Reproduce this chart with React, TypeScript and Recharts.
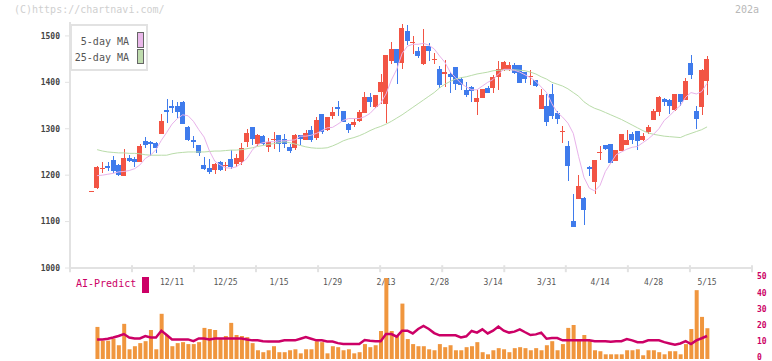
import { Bar, ComposedChart, Line, ReferenceLine, XAxis, YAxis } from 'recharts';

// One entry per trading day, oldest first (day 0 = the stray first tick).
const opens = [
  1164, 1172, 1214, 1219, 1232, 1221, 1198, 1238, 1234, 1228, 1273, 1271, 1269, 1289, 1340, 1349,
  1349, 1357, 1303, 1275, 1264, 1221, 1215, 1211, 1228, 1220, 1234, 1225, 1229, 1272, 1303, 1268,
  1284, 1261, 1277, 1286, 1277, 1261, 1259, 1286, 1276, 1297, 1280, 1331, 1297, 1327, 1346, 1338,
  1311, 1308, 1317, 1334, 1369, 1347, 1379, 1354, 1446, 1471, 1442, 1510, 1484, 1467, 1439, 1478,
  1448, 1428, 1418, 1419, 1433, 1408, 1383, 1390, 1358, 1366, 1387, 1387, 1412, 1426, 1426, 1437,
  1437, 1422, 1411, 1406, 1342, 1348, 1374, 1333, 1294, 1262, 1101, 1148, 1150, 1217, 1185, 1247,
  1266, 1268, 1231, 1252, 1265, 1288, 1295, 1275, 1292, 1318, 1336, 1364, 1361, 1341, 1374, 1361,
  1441, 1338, 1347, 1402,
];
const highs = [
  1166, 1219, 1228, 1229, 1241, 1223, 1256, 1244, 1240, 1267, 1282, 1273, 1272, 1331, 1364, 1361,
  1357, 1359, 1305, 1284, 1264, 1240, 1234, 1226, 1230, 1228, 1254, 1245, 1269, 1300, 1303, 1288,
  1286, 1280, 1292, 1286, 1289, 1268, 1288, 1286, 1297, 1307, 1325, 1331, 1325, 1347, 1359, 1338,
  1313, 1320, 1340, 1379, 1377, 1372, 1419, 1458, 1487, 1471, 1525, 1523, 1499, 1476, 1514, 1485,
  1464, 1435, 1448, 1422, 1433, 1412, 1401, 1392, 1383, 1385, 1392, 1415, 1446, 1445, 1444, 1442,
  1437, 1422, 1426, 1406, 1385, 1374, 1396, 1338, 1305, 1274, 1159, 1200, 1153, 1219, 1232, 1262,
  1266, 1268, 1254, 1288, 1297, 1293, 1295, 1290, 1308, 1343, 1370, 1366, 1364, 1374, 1374, 1409,
  1458, 1348, 1428, 1456,
];
const lows = [
  1164, 1170, 1205, 1208, 1205, 1199, 1198, 1228, 1218, 1228, 1259, 1241, 1247, 1289, 1313, 1335,
  1324, 1310, 1274, 1258, 1241, 1211, 1202, 1203, 1208, 1208, 1213, 1218, 1222, 1260, 1266, 1262,
  1264, 1250, 1256, 1250, 1259, 1247, 1254, 1266, 1276, 1272, 1275, 1288, 1295, 1321, 1327, 1314,
  1291, 1303, 1315, 1334, 1347, 1344, 1354, 1313, 1440, 1397, 1428, 1481, 1461, 1453, 1437, 1445,
  1439, 1387, 1390, 1377, 1384, 1383, 1369, 1358, 1329, 1366, 1376, 1376, 1383, 1424, 1424, 1417,
  1399, 1399, 1394, 1390, 1342, 1305, 1322, 1311, 1269, 1188, 1088, 1148, 1092, 1198, 1159, 1232,
  1254, 1226, 1231, 1252, 1265, 1267, 1254, 1274, 1288, 1318, 1328, 1348, 1331, 1339, 1349, 1361,
  1407, 1299, 1329, 1372,
];
const closes = [
  1166, 1217, 1216, 1215, 1208, 1200, 1238, 1231, 1229, 1262, 1266, 1267, 1259, 1316, 1336, 1345,
  1336, 1310, 1276, 1271, 1248, 1213, 1207, 1223, 1211, 1222, 1217, 1236, 1258, 1291, 1278, 1286,
  1267, 1271, 1279, 1268, 1268, 1252, 1286, 1277, 1291, 1275, 1318, 1293, 1325, 1336, 1343, 1314,
  1297, 1315, 1336, 1369, 1358, 1372, 1401, 1458, 1471, 1442, 1516, 1489, 1486, 1457, 1478, 1467,
  1450, 1394, 1422, 1412, 1397, 1394, 1372, 1381, 1367, 1385, 1378, 1412, 1428, 1443, 1437, 1420,
  1399, 1408, 1413, 1392, 1372, 1315, 1328, 1320, 1296, 1220, 1088, 1176, 1124, 1214, 1232, 1249,
  1257, 1226, 1254, 1288, 1275, 1275, 1274, 1284, 1303, 1338, 1369, 1358, 1348, 1374, 1358, 1402,
  1415, 1320, 1426, 1450,
];
const ma5 = [
  null, 1199, 1200, 1202, 1204, 1207, 1208, 1210, 1214, 1222, 1236, 1243, 1255, 1275, 1292, 1310,
  1322, 1330, 1328, 1316, 1298, 1282, 1252, 1230, 1222, 1216, 1215, 1218, 1226, 1236, 1254, 1266,
  1270, 1272, 1272, 1274, 1274, 1275, 1276, 1284, 1284, 1286, 1290, 1296, 1302, 1303, 1310, 1318,
  1322, 1322, 1322, 1326, 1333, 1345, 1355, 1375, 1405, 1428, 1462, 1478, 1482, 1482, 1484, 1480,
  1472, 1457, 1443, 1422, 1410, 1398, 1390, 1384, 1384, 1392, 1400, 1406, 1418, 1428, 1428, 1426,
  1422, 1416, 1410, 1402, 1390, 1378, 1354, 1335, 1325, 1312, 1290, 1240, 1195, 1172, 1166, 1178,
  1208, 1226, 1244, 1250, 1256, 1260, 1262, 1270, 1278, 1288, 1300, 1318, 1328, 1340, 1350, 1368,
  1378, 1375, 1380, 1398,
];
const ma25 = [
  null, 1255, 1252, 1250, 1249, 1248, 1248, 1247, 1247, 1246, 1244, 1243, 1243, 1243, 1243, 1246,
  1248, 1249, 1250, 1250, 1250, 1250, 1251, 1252, 1252, 1253, 1254, 1254, 1255, 1257, 1259, 1262,
  1264, 1266, 1268, 1270, 1272, 1270, 1267, 1264, 1261, 1259, 1258, 1258, 1259, 1263, 1268, 1274,
  1278, 1281, 1285, 1290, 1296, 1301, 1305, 1310, 1316, 1323, 1330, 1338, 1346, 1354, 1362, 1370,
  1378, 1388, 1396, 1402, 1407, 1410, 1412, 1415, 1418, 1420, 1422, 1425, 1426, 1427, 1427, 1427,
  1426, 1425, 1422, 1418, 1412, 1407, 1400, 1396, 1392, 1386, 1378, 1370, 1358, 1350, 1344, 1340,
  1335, 1330, 1325, 1320, 1314, 1308, 1302, 1296, 1291, 1288, 1286, 1284, 1283, 1282, 1281, 1286,
  1290, 1294, 1298, 1304,
];
const volumes = [
  null, 19.8, 11.3, 11.3, 12.5, 8.5, 21.7, 6.0, 7.9, 9.8, 11.0, 17.9, 6.0, 27.9, 14.8, 7.9,
  9.8, 10.4, 9.2, 9.2, 10.4, 19.2, 18.5, 17.9, 12.3, 14.2, 22.3, 14.8, 14.2, 13.5, 9.8, 5.4,
  4.2, 5.4, 7.9, 4.2, 4.2, 5.4, 6.0, 3.5, 6.0, 6.0, 11.0, 10.4, 3.5, 7.9, 7.3, 5.4,
  6.0, 3.5, 4.2, 9.2, 7.3, 8.5, 17.3, 50, 17.3, 14.8, 34.2, 12.3, 9.2, 7.9, 7.9, 6.0,
  5.4, 9.2, 7.3, 8.5, 5.4, 5.4, 7.3, 7.9, 10.4, 4.2, 2.9, 5.4, 6.7, 6.0, 4.2, 6.7,
  7.3, 6.7, 5.4, 6.7, 5.4, 8.5, 11.0, 5.4, 9.2, 19.2, 21.0, 11.7, 14.8, 11.7, 5.4, 4.8,
  2.9, 2.9, 2.9, 2.9, 5.4, 5.4, 6.0, 2.3, 5.4, 5.4, 4.2, 2.9, 4.8, 4.8, 2.9, 9.2,
  18.5, 42.5, 26.0, 19.0,
];
const aiPredict = [
  null, 12.1, 12.1, 12.5, 13.3, 14.2, 15.4, 13.3, 12.7, 12.7, 14.2, 13.3, 13.3, 17.5, 14.8, 12.1,
  12.1, 12.1, 12.1, 11.0, 12.7, 12.7, 12.1, 12.7, 12.7, 12.7, 12.7, 12.7, 12.7, 12.1, 11.5, 11.5,
  11.0, 10.8, 10.8, 10.8, 11.5, 11.5, 11.5, 12.5, 13.5, 12.5, 11.5, 11.5, 10.8, 10.8, 9.8, 9.2,
  9.2, 9.2, 9.2, 11.7, 11.2, 11.0, 11.0, 15.4, 15.4, 13.8, 17.5, 17.5, 15.8, 18.5, 20.4, 18.5,
  16.0, 14.6, 14.6, 14.6, 14.6, 13.3, 14.0, 17.3, 16.3, 18.3, 15.8, 17.5, 20.0, 17.5, 16.3, 16.9,
  18.3, 16.5, 14.8, 15.2, 16.3, 12.5, 12.9, 12.9, 11.5, 11.5, 11.5, 11.5, 11.5, 11.5, 11.0, 11.0,
  11.0, 10.6, 11.0, 11.0, 12.3, 11.5, 10.4, 10.4, 11.5, 11.5, 11.5, 10.4, 9.6, 8.8, 9.6, 11.0,
  9.2, 11.5, 12.8, 14.2,
];

const labelDays = [15, 25, 35, 45, 55, 65, 75, 85, 95, 105, 115];
const labelTexts = ['12/11', '12/25', '1/15', '1/29', '2/13', '2/28', '3/14', '3/31', '4/14', '4/28', '5/15'];
const priceTicks = [1000, 1100, 1200, 1300, 1400, 1500];
const scoreTicks = [0, 10, 20, 30, 40, 50];
// evenly spaced marks along the date axis, independent of the trading days
const markDays = [-4.07, 7.52, 19.1, 30.7, 42.3, 53.9, 65.5, 77.1, 88.6, 100.2, 111.8, 123.4];

const DAY_DOMAIN: [number, number] = [-4.07, 123.4];
const UP = '#F25444';
const DOWN = '#3F7BEC';
const AXIS = '#e2e2e2';
const MONO = '"DejaVu Sans Mono", monospace';

const rows = closes.map((close, i) => ({
  day: i,
  open: opens[i],
  high: highs[i],
  low: lows[i],
  close,
  range: [lows[i], highs[i]],
  ma5: ma5[i],
  ma25: ma25[i],
  volume: volumes[i],
  ai: aiPredict[i],
}));

// Wick spans the bar's [low, high] range; the body is placed proportionally inside it.
// eslint-disable-next-line @typescript-eslint/no-explicit-any
const Candle = (props: any) => {
  const { x, y, width, height, payload } = props ?? {};
  if (typeof x !== 'number' || typeof y !== 'number' || !payload) return <g />;
  const top = Math.min(y, y + height);
  const span = Math.abs(height);
  const { open, close, high, low } = payload;
  const k = high > low ? span / (high - low) : 0;
  const bodyTop = top + (high - Math.max(open, close)) * k;
  const bodyH = Math.max(1, Math.abs(open - close) * k);
  const color = close >= open ? UP : DOWN;
  const cx = Math.round(x + width / 2) + 0.5;
  return (
    <g shapeRendering="crispEdges">
      <line x1={cx} x2={cx} y1={top} y2={top + span} stroke={color} strokeWidth={1} />
      <rect x={x} y={bodyTop} width={width} height={bodyH} fill={color} />
    </g>
  );
};

export default function App() {
  return (
    <div style={{ position: 'absolute', left: 0, top: 0, width: 772, height: 361, background: '#fff', overflow: 'hidden' }}>
      <div style={{ position: 'absolute', left: 14, top: 4, fontFamily: MONO, fontSize: 10, color: '#cfcfcf' }}>
        (C)https://chartnavi.com/
      </div>
      <div style={{ position: 'absolute', left: 735, top: 4, fontFamily: MONO, fontSize: 10, color: '#b8b8b8' }}>202a</div>

      <div style={{ position: 'absolute', left: 0, top: 0 }}>
        <ComposedChart width={772} height={288} data={rows} margin={{ top: 22, right: 20, bottom: 0, left: 0 }}>
          <XAxis
            dataKey="day"
            type="number"
            domain={DAY_DOMAIN}
            allowDataOverflow
            ticks={labelDays}
            interval={0}
            tickFormatter={(v: number) => labelTexts[labelDays.indexOf(v)] ?? ''}
            axisLine={{ stroke: AXIS, strokeWidth: 2 }}
            tickLine={false}
            tickMargin={5}
            height={20}
            tick={{ fontFamily: MONO, fontSize: 8, fill: '#555' }}
          />
          <YAxis
            type="number"
            domain={[1000, 1530]}
            allowDataOverflow
            ticks={priceTicks}
            width={70}
            tickSize={5}
            tickMargin={5}
            axisLine={{ stroke: AXIS, strokeWidth: 2 }}
            tickLine={{ stroke: AXIS, strokeWidth: 1 }}
            tick={{ fontFamily: MONO, fontSize: 8, fill: '#444', fontWeight: 'bold' }}
          />
          {markDays.map((d) => (
            <ReferenceLine
              key={d}
              segment={[{ x: d, y: 1006 }, { x: d, y: 991 }]}
              stroke={AXIS}
              strokeWidth={2}
              ifOverflow="visible"
            />
          ))}
          <Bar dataKey="range" barSize={5} shape={Candle} isAnimationActive={false} />
          <Line type="linear" dataKey="ma25" stroke="#b9dca9" strokeWidth={1} dot={false} activeDot={false} isAnimationActive={false} />
          <Line type="linear" dataKey="ma5" stroke="#e8b2ea" strokeWidth={1} dot={false} activeDot={false} isAnimationActive={false} />
        </ComposedChart>
      </div>

      <div style={{ position: 'absolute', left: 0, top: 268 }}>
        <ComposedChart width={772} height={100} data={rows} margin={{ top: 10, right: 0, bottom: 9, left: 70 }}>
          <XAxis dataKey="day" type="number" domain={DAY_DOMAIN} allowDataOverflow hide />
          <YAxis
            orientation="right"
            type="number"
            domain={[0, 50]}
            allowDataOverflow
            ticks={scoreTicks}
            interval={0}
            width={20}
            axisLine={false}
            tickLine={false}
            tickSize={0}
            tickMargin={5}
            tick={{ fontFamily: MONO, fontSize: 8, fill: '#cc0066', fontWeight: 'bold', textAnchor: 'start', dy: -1.5 }}
          />
          <Bar dataKey="volume" barSize={4} fill="#f0963e" isAnimationActive={false} />
          <Line type="linear" dataKey="ai" stroke="#cc0066" strokeWidth={2.5} dot={false} activeDot={false} isAnimationActive={false} />
        </ComposedChart>
      </div>

      <div style={{ position: 'absolute', left: 76, top: 278, fontFamily: MONO, fontSize: 10, color: '#cc0066' }}>AI-Predict</div>
      <div style={{ position: 'absolute', left: 142, top: 277, width: 7, height: 16, background: '#cc0066' }} />

      <div
        style={{
          position: 'absolute', left: 70, top: 24, width: 78, height: 47, boxSizing: 'border-box',
          border: `2px solid ${AXIS}`, background: '#fff', fontFamily: MONO, fontSize: 10, color: '#555',
        }}
      >
        <div style={{ position: 'absolute', right: 17, top: 10, lineHeight: '12px' }}>5-day MA</div>
        <div style={{ position: 'absolute', left: 65, top: 6, width: 5, height: 14, background: '#eab8ea', border: '1px solid #666' }} />
        <div style={{ position: 'absolute', right: 17, top: 26, lineHeight: '12px' }}>25-day MA</div>
        <div style={{ position: 'absolute', left: 65, top: 23, width: 5, height: 13, background: '#bfdcae', border: '1px solid #666' }} />
      </div>
    </div>
  );
}
